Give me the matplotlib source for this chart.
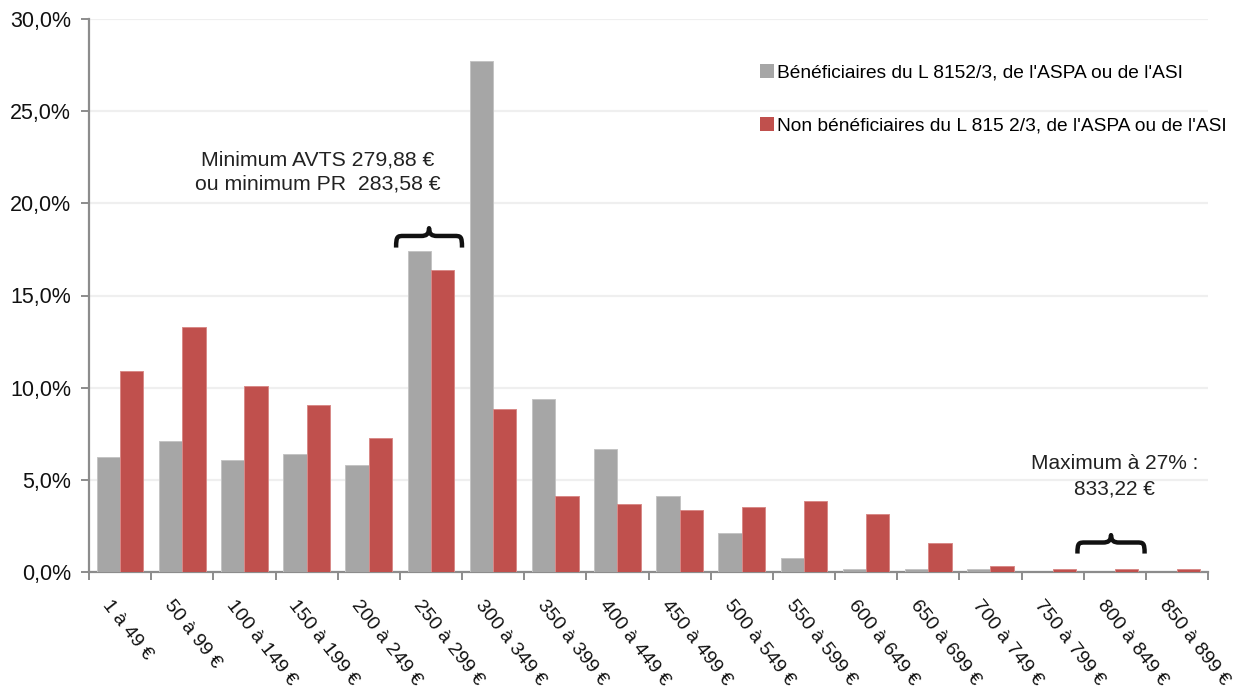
import numpy as np
import matplotlib
matplotlib.use('Agg')
import matplotlib.pyplot as plt
from matplotlib.path import Path
from matplotlib.patches import PathPatch, Patch
from matplotlib.transforms import Affine2D, ScaledTranslation
from matplotlib.ticker import FuncFormatter, MultipleLocator, FixedLocator

categories = ["1 à 49 €", "50 à 99 €", "100 à 149 €", "150 à 199 €", "200 à 249 €",
              "250 à 299 €", "300 à 349 €", "350 à 399 €", "400 à 449 €", "450 à 499 €",
              "500 à 549 €", "550 à 599 €", "600 à 649 €", "650 à 699 €", "700 à 749 €",
              "750 à 799 €", "800 à 849 €", "850 à 899 €"]
benef = [6.25, 7.1, 6.1, 6.4, 5.8, 17.4, 27.7, 9.4, 6.65, 4.1, 2.1, 0.75,
         0.18, 0.18, 0.18, 0.0, 0.0, 0.0]
non_benef = [10.9, 13.3, 10.1, 9.05, 7.25, 16.4, 8.85, 4.12, 3.68, 3.38, 3.52, 3.85,
             3.12, 1.6, 0.32, 0.18, 0.18, 0.18]
label_benef = "Bénéficiaires du L 8152/3, de l'ASPA ou de l'ASI"
label_non = "Non bénéficiaires du L 815 2/3, de l'ASPA ou de l'ASI"
annot_min = "Minimum AVTS 279,88 €\nou minimum PR  283,58 €"
annot_max = "Maximum à 27% :\n833,22 €"

GREY = '#A6A6A6'
RED = '#C0504D'
AXC = '#8C8C8C'

plt.rcParams['font.family'] = ['Liberation Sans', 'DejaVu Sans']

fig = plt.figure(figsize=(12.56, 6.97), dpi=100)
ax = fig.add_axes([89/1256, 1-572/697, (1208-89)/1256, (572-19)/697])

x = np.arange(len(categories))
w = 0.375
ax.bar(x - w/2, benef, width=w, color=GREY, edgecolor='#C4C4C4',
       linewidth=[0.7 if v > 0 else 0 for v in benef], zorder=3)
ax.bar(x + w/2, non_benef, width=w, color=RED, edgecolor='#D88A88',
       linewidth=[0.7 if v > 0 else 0 for v in non_benef], zorder=3)

ax.set_xlim(-0.5, len(categories) - 0.5)
ax.set_ylim(0, 30)
ax.yaxis.set_major_locator(MultipleLocator(5))
ax.yaxis.set_major_formatter(FuncFormatter(lambda v, p: f"{v:.1f}".replace('.', ',') + '%'))
ax.grid(axis='y', color='#EFEFEF', linewidth=1.6, zorder=0)
ax.set_axisbelow(True)

for s in ['top', 'right']:
    ax.spines[s].set_visible(False)
for s in ['left', 'bottom']:
    ax.spines[s].set_color(AXC)
    ax.spines[s].set_linewidth(1.6)

ax.tick_params(axis='y', direction='out', length=6, width=1.4, color=AXC,
               labelsize=15.5, pad=7, labelcolor='#111111')

# x: major ticks on boundaries, labels on minor ticks at centers
ax.xaxis.set_major_locator(FixedLocator(np.arange(-0.5, len(categories), 1.0)))
ax.xaxis.set_major_formatter(FuncFormatter(lambda v, p: ''))
ax.xaxis.set_minor_locator(FixedLocator(x))
ax.set_xticklabels(categories, minor=True)
ax.tick_params(axis='x', which='major', direction='out', length=6, width=1.4, color=AXC)
ax.tick_params(axis='x', which='minor', length=0, pad=18, labelsize=14, labelcolor='#111111')
offset = ScaledTranslation(-8/100, 0, fig.dpi_scale_trans)
for lab in ax.get_xticklabels(minor=True):
    lab.set_rotation(-52)
    lab.set_rotation_mode('anchor')
    lab.set_ha('left')
    lab.set_va('top')
    lab.set_transform(lab.get_transform() + offset)

# legend
handles = [Patch(facecolor=GREY, edgecolor='none'), Patch(facecolor=RED, edgecolor='none')]
fig.legend(handles, [label_benef, label_non], loc='upper left',
           bbox_to_anchor=(760/1256, 1-64/697), frameon=False, fontsize=13.8,
           handlelength=0.75, handleheight=0.75, handletextpad=0.15, labelspacing=1.85,
           borderpad=0, borderaxespad=0)

# braces
def brace(ax, x0, x1, y0, y1):
    verts = [(0, 0), (0, 0.6), (0.02, 0.6), (0.12, 0.6), (0.38, 0.6),
             (0.46, 0.6), (0.5, 0.7), (0.5, 1.0),
             (0.5, 0.7), (0.54, 0.6), (0.62, 0.6), (0.88, 0.6),
             (0.98, 0.6), (1.0, 0.6), (1.0, 0.0)]
    codes = [Path.MOVETO, Path.CURVE4, Path.CURVE4, Path.CURVE4, Path.LINETO,
             Path.CURVE4, Path.CURVE4, Path.CURVE4,
             Path.CURVE4, Path.CURVE4, Path.CURVE4, Path.LINETO,
             Path.CURVE4, Path.CURVE4, Path.CURVE4]
    tr = Affine2D().scale(x1 - x0, y1 - y0).translate(x0, y0) + ax.transData
    ax.add_patch(PathPatch(Path(verts, codes), transform=tr, facecolor='none',
                           edgecolor='#111111', linewidth=3.2, capstyle='butt',
                           joinstyle='round', zorder=5, clip_on=False))

brace(ax, 5 - 0.56, 5 + 0.5, 17.6, 18.65)
brace(ax, 16 - 0.6, 16 + 0.48, 1.0, 2.0)

ax.text(5 - 1.82, 21.7, annot_min, ha='center', va='center', fontsize=15.3,
        color='#222222', linespacing=1.35)
ax.text(16.0, 5.2, annot_max, ha='center', va='center', fontsize=15.0,
        color='#222222', linespacing=1.4)

fig.savefig('out.png', dpi=100)
